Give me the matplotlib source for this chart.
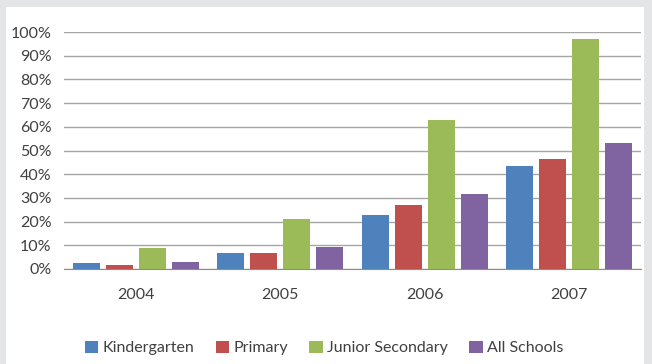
import numpy as np
import matplotlib.pyplot as plt
from matplotlib.patches import Rectangle

years = ["2004", "2005", "2006", "2007"]
kindergarten = [2.5, 6.8, 22.8, 43.5]
primary = [1.7, 6.8, 27.0, 46.4]
junior_secondary = [8.9, 21.1, 62.9, 97.0]
all_schools = [3.0, 9.3, 31.6, 53.2]

series = [
    ("Kindergarten", kindergarten, "#4F81BD"),
    ("Primary", primary, "#C0504D"),
    ("Junior Secondary", junior_secondary, "#9BBB59"),
    ("All Schools", all_schools, "#8064A2"),
]

plt.rcParams["font.family"] = ["Lato", "DejaVu Sans"]
text_color = "#404040"
fs = 11.5

fig = plt.figure(figsize=(6.52, 3.64), dpi=100)
fig.patch.set_facecolor("#E4E5E7")
# white chart panel behind everything
fig.patches.append(Rectangle((6 / 652, 0), 638 / 652, 1 - 7 / 364,
                             transform=fig.transFigure, facecolor="white",
                             edgecolor="none", zorder=-10))

ax = fig.add_axes([64 / 652, 1 - 269 / 364, 577 / 652, 237 / 364])
ax.set_facecolor("none")

x = np.arange(len(years))
pitch = 0.229
width = 0.1875
for j, (name, vals, color) in enumerate(series):
    ax.bar(x + (j - 1.5) * pitch, vals, width=width, color=color, label=name, zorder=3)

ax.set_xlim(-0.5, len(years) - 0.5)
ax.set_ylim(0, 100)
ax.set_yticks(np.arange(0, 101, 10))
ax.set_yticklabels([f"{v}%" for v in range(0, 101, 10)])
ax.set_xticks(x)
ax.set_xticklabels(years)
ax.yaxis.grid(True, color="#A6A6A6", linewidth=1.0)
ax.set_axisbelow(True)
for side in ["top", "right", "left"]:
    ax.spines[side].set_visible(False)
ax.spines["bottom"].set_color("#8C8C8C")
ax.tick_params(axis="y", length=0, pad=9, labelsize=fs, labelcolor=text_color)
ax.tick_params(axis="x", length=0, pad=14, labelsize=fs, labelcolor=text_color)

fig.legend(loc="center", bbox_to_anchor=(0.497, 1 - 348 / 364), ncol=4,
           frameon=False, fontsize=fs, handlelength=0.85, handleheight=0.85,
           handletextpad=0.25, columnspacing=1.35, labelcolor=text_color)

fig.savefig("out.png", dpi=100)
